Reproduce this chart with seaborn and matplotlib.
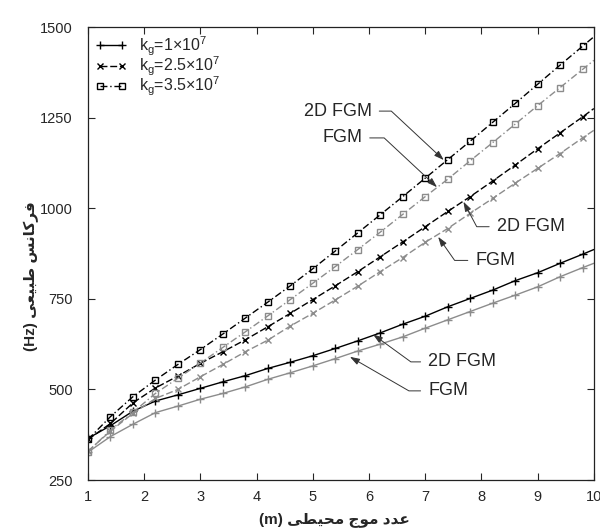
import numpy as np
import pandas as pd
import matplotlib
matplotlib.use("Agg")
import matplotlib.pyplot as plt
from matplotlib.lines import Line2D
import seaborn as sns

# wave number m (markers every 0.4, line runs to 10)
m_vals = [1.0, 1.4, 1.8, 2.2, 2.6, 3.0, 3.4, 3.8, 4.2, 4.6, 5.0, 5.4,
          5.8, 6.2, 6.6, 7.0, 7.4, 7.8, 8.2, 8.6, 9.0, 9.4, 9.8, 10.0]

# natural frequency (Hz)
kg1_2d = [365, 400, 440, 468, 485, 503, 521, 538, 558, 575, 593, 613,
          634, 656, 680, 702, 728, 751, 774, 800, 822, 848, 873, 886]
kg1_fgm = [327, 370, 404, 436, 454, 473, 489, 507, 528, 546, 565, 585,
           606, 625, 645, 669, 692, 715, 738, 760, 783, 811, 836, 848]
kg25_2d = [362, 406, 463, 504, 537, 572, 604, 637, 673, 710, 748, 786,
           825, 866, 907, 949, 991, 1032, 1075, 1119, 1164, 1208, 1252, 1275]
kg25_fgm = [330, 385, 434, 475, 500, 535, 569, 604, 636, 675, 710, 747,
            785, 825, 864, 906, 944, 986, 1027, 1069, 1110, 1151, 1194, 1215]
kg35_2d = [362, 425, 480, 526, 569, 610, 653, 697, 741, 786, 833, 882,
           932, 982, 1032, 1083, 1134, 1185, 1237, 1289, 1342, 1395, 1447, 1473]
kg35_fgm = [328, 388, 437, 489, 531, 573, 616, 659, 703, 748, 793, 839,
            886, 934, 983, 1032, 1080, 1131, 1181, 1232, 1283, 1333, 1383, 1408]

legend_labels = [r'k$_\mathregular{g}$=1$\times$10$^\mathregular{7}$',
                 r'k$_\mathregular{g}$=2.5$\times$10$^\mathregular{7}$',
                 r'k$_\mathregular{g}$=3.5$\times$10$^\mathregular{7}$']
x_ticks = [1, 2, 3, 4, 5, 6, 7, 8, 9, 10]
y_ticks = [250, 500, 750, 1000, 1250, 1500]

# Persian labels, written in visual order with presentation forms
# (matplotlib has no bidi / shaping)
ylab = "(Hz) " + "\uFEF0\uFECC\uFEF4\uFE92\uFEC3" + " " + "\uFEB2\uFEE7\uFE8E\uFEDB\uFEAE\uFED3"
xlab = "(m) " + "\uFEF0\uFEC4\uFEF4\uFEA4\uFEE3" + " " + "\uFE9D\uFEEE\uFEE3" + " " + "\uFEA9\uFEAA\uFECB"

sns.set_style("ticks")
plt.rcParams['font.family'] = ['Liberation Sans', 'DejaVu Sans']
plt.rcParams['mathtext.fontset'] = 'custom'
plt.rcParams['mathtext.rm'] = 'Liberation Sans'

fig = plt.figure(figsize=(6.0, 5.32), dpi=100)
ax = fig.add_axes([0.1467, 0.0977, 0.843, 0.8515])

black = '#000000'
grey = '#8c8c8c'
solid = '-'
dashed = (0, (5, 2))
dashdot = (0, (5, 2, 1, 2))

series = [
    (kg1_2d, black, solid, '+', 6),
    (kg1_fgm, grey, solid, '+', 6),
    (kg25_2d, black, dashed, 'x', 5),
    (kg25_fgm, grey, dashed, 'x', 5),
    (kg35_2d, black, dashdot, 's', 4.5),
    (kg35_fgm, grey, dashdot, 's', 4.5),
]
marks = list(range(len(m_vals) - 1))

for vals, col, ls, mk, ms in series:
    df = pd.DataFrame({'m': m_vals, 'f': vals})
    sns.lineplot(data=df, x='m', y='f', ax=ax, color=col, linestyle=ls, lw=1.0,
                 marker=mk, markersize=ms, markevery=marks, mfc='none',
                 mec=col, mew=1.0, legend=False)

# legend with the black styles
handles = [Line2D([], [], color=black, linestyle=solid, lw=1.0, marker='+', ms=6, mew=1.0),
           Line2D([], [], color=black, linestyle=dashed, lw=1.0, marker='x', ms=5, mew=1.0),
           Line2D([], [], color=black, linestyle=dashdot, lw=1.0, marker='s', ms=4.5, mfc='none', mew=1.0)]
ax.legend(handles, legend_labels, loc='upper left', frameon=False, fontsize=11.5,
          numpoints=2, handlelength=2.0, handletextpad=0.75, labelspacing=-0.18,
          borderaxespad=0.35, borderpad=0.1)

# arrows with a horizontal leader next to the text
notes = [
    ('2D FGM', (7.33, 1133), (6.05, 1268), -43, 'right'),
    ('FGM', (7.21, 1058), (5.88, 1194), -43, 'right'),
    ('2D FGM', (7.68, 1018), (8.27, 949), 118, 'left'),
    ('FGM', (7.23, 921), (7.89, 856), 125, 'left'),
    ('2D FGM', (6.07, 652), (7.05, 576), 144, 'left'),
    ('FGM', (5.66, 590), (7.05, 496), 150, 'left'),
]
for txt, tip, pos, ang, ha in notes:
    ax.annotate(txt, xy=tip, xytext=pos, ha=ha, va='center', fontsize=13,
                arrowprops=dict(arrowstyle='-|>,head_length=0.45,head_width=0.15',
                                color='#333333', lw=0.7, shrinkA=3, shrinkB=0,
                                relpos=(1 if ha == 'right' else 0, 0.5),
                                connectionstyle=f'angle,angleA=0,angleB={ang},rad=0'))

ax.set_xlim(1, 10)
ax.set_ylim(250, 1500)
ax.set_xticks(x_ticks)
ax.set_yticks(y_ticks)
ax.tick_params(direction='in', length=5, width=0.8, labelsize=10.5,
               top=True, right=True)
ax.tick_params(axis='x', pad=7.5)
ax.tick_params(axis='y', pad=11)
for sp in ax.spines.values():
    sp.set_visible(True)
    sp.set_linewidth(0.9)
    sp.set_color('#222222')

ax.set_xlabel(xlab, fontsize=11, fontweight='bold')
ax.set_ylabel(ylab, fontsize=11, fontweight='bold')
ax.xaxis.set_label_coords(0.488, -0.07)
ax.yaxis.set_label_coords(-0.097, 0.45)

fig.savefig('out.png', dpi=100)
